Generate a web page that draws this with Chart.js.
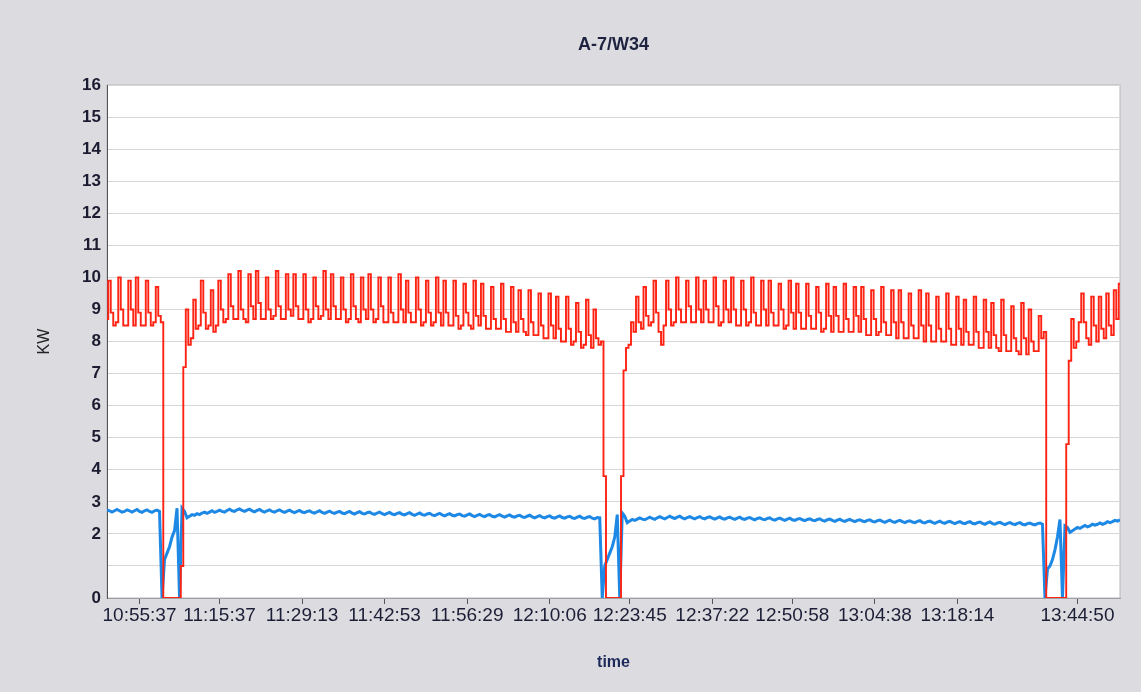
<!DOCTYPE html>
<html lang="en">
<head>
    <meta charset="UTF-8">
    <title>A-7/W34</title>
    <script src="https://cdn.jsdelivr.net/npm/chart.js@4.4.1/dist/chart.umd.min.js"></script>
    <style>
        body { margin: 0; background-color: #dcdbe0; }
        #chart-container { width: 1141px; height: 692px; }
    </style>
</head>
<body>
    <div id="chart-container">
        <canvas id="kwChart"></canvas>
    </div>

<script>
    // sample index (one point per reading) and the time labels printed under the axis
    const tickIndex  = [13, 45, 78, 111, 144, 177, 209, 242, 274, 307, 340, 388];
    const tickLabels = ['10:55:37', '11:15:37', '11:29:13', '11:42:53', '11:56:29', '12:10:06',
                        '12:23:45', '12:37:22', '12:50:58', '13:04:38', '13:18:14', '13:44:50'];

    // red series (KW)
    const redKW = [
        8.7, 9.9, 8.9, 8.5,  8.6, 10.0, 9.0, 8.5,  8.5, 9.9, 9.0, 8.5,  10.0, 8.9, 8.5,
        8.5, 9.9, 8.9, 8.5,  8.6, 9.7, 8.8, 8.6,
        0, 0, 0, 0, 0, 0, 0,
        1.0, 7.2,
        9.0, 7.9, 8.1, 9.3, 8.4, 8.5, 9.9, 8.9, 8.4, 8.5, 9.6, 8.3, 8.5, 9.9, 9.0, 8.6,
        8.7, 10.1, 9.1, 8.7,  8.7, 10.2, 9.0, 8.7,  8.6, 10.1, 9.1,
        8.7, 10.2, 9.2, 8.7,  8.7, 10.0, 9.0, 8.7,  8.8, 10.2, 9.1, 8.7,  8.7, 10.1, 9.0,
        8.8, 10.1, 9.1, 8.7,  8.7, 10.1, 9.0, 8.6,  8.7, 10.0, 9.1, 8.7,  8.8, 10.2, 9.0,
        8.7, 10.1, 9.1, 8.7,  8.7, 10.0, 9.0, 8.6,  8.7, 10.1, 9.1, 8.7,  8.6, 10.0, 9.0,
        8.7, 10.1, 9.0, 8.6,  8.7, 10.0, 9.1, 8.6,  8.6, 10.0, 8.9, 8.6,  8.6, 10.1, 9.0,
        8.6, 9.9, 8.9, 8.6,  8.6, 10.0, 9.0, 8.5,  8.6, 9.9, 8.9, 8.5,  8.6, 10.0, 8.9,
        8.5, 9.9, 8.9, 8.5,  8.5, 9.9, 8.8, 8.4,  8.5, 9.8, 8.9, 8.5,  8.4, 9.9, 8.8,
        8.5, 9.8, 8.8, 8.4,  8.4, 9.7, 8.7, 8.4,  8.4, 9.8, 8.7, 8.3,  8.3, 9.7, 8.6,
        8.3, 9.6, 8.7, 8.3,  8.2, 9.6, 8.6, 8.2,  8.2, 9.5, 8.5, 8.1,  8.1, 9.5, 8.5,
        8.1, 9.4, 8.4, 8.0,  8.0, 9.4, 8.4, 7.9,  8.0, 9.2, 8.3, 7.8,  7.9, 9.3, 8.2,
        7.8, 9.0, 8.1, 7.9,
        8.0,
        3.8, 0, 0, 0, 0, 0, 0,
        3.8, 7.1, 7.8,
        7.9, 8.6, 8.3, 9.4, 8.6, 8.4, 9.7, 8.8, 8.5, 8.6, 9.9, 8.9, 8.3, 7.9, 8.5, 9.9, 9.0, 8.5,
        8.6, 10.0, 9.0, 8.6,  8.6, 9.9, 9.1, 8.6,  8.6, 10.0, 9.0,
        8.6, 9.9, 9.0, 8.6,  8.6, 10.0, 9.1, 8.5,  8.6, 9.9, 9.0,
        8.6, 10.0, 9.0, 8.5,  8.5, 9.9, 9.0, 8.5,  8.6, 10.0, 8.9, 8.5,  8.5, 9.9, 9.0,
        8.5, 9.9, 8.9, 8.5,  8.5, 9.8, 9.0, 8.4,  8.5, 9.9, 8.9,
        8.4, 9.8, 8.9, 8.4,  8.4, 9.8, 8.8, 8.4,  8.4, 9.7, 8.9, 8.3,  8.4, 9.8, 8.8,
        8.3, 9.7, 8.8, 8.3,  8.3, 9.8, 8.7, 8.3,  8.3, 9.7, 8.8,
        8.3, 9.7, 8.7, 8.2,  8.2, 9.6, 8.7, 8.2,  8.3, 9.7, 8.6, 8.2,  8.2, 9.6, 8.6,
        8.1, 9.6, 8.6, 8.1,  8.1, 9.5, 8.5, 8.1,  8.1, 9.6, 8.5,
        8.0, 9.5, 8.5, 8.0,  8.0, 9.4, 8.4, 8.0,  8.0, 9.5, 8.4, 7.9,  7.9, 9.4, 8.4,
        7.9, 9.3, 8.3, 7.9,  7.9, 9.4, 8.3, 7.8,  7.8, 9.3, 8.3,
        7.8, 9.2, 8.2, 7.8,  7.7, 9.3, 8.2, 7.7,  7.7, 9.1, 8.1, 7.7,  7.6, 9.2, 8.1,
        7.6, 9.0, 8.0, 7.7,  7.7, 8.8, 8.1, 8.3,
        0, 0, 0, 0, 0, 0, 0, 0,
        4.8, 7.4, 8.7,
        7.8, 8.0, 8.6, 9.5, 8.6, 8.1, 7.9, 9.4, 8.5, 8.0, 9.4, 8.4, 8.1, 9.5, 8.5, 8.2, 9.6, 8.7, 9.8
    ];

    // blue series (KW)
    const blueKW = [
        2.75, 2.72, 2.68, 2.72, 2.76, 2.72, 2.68, 2.7, 2.75, 2.72,
        2.68, 2.72, 2.76, 2.7, 2.67, 2.72, 2.75, 2.7, 2.67, 2.72,
        2.74, 2.7, 0, 1.2, 1.4, 1.6, 1.9, 2.1, 2.8, 0,
        2.8, 2.7, 2.5, 2.55, 2.6, 2.58, 2.63, 2.6, 2.65, 2.68,
        2.64, 2.68, 2.72, 2.67, 2.7, 2.74, 2.7, 2.68, 2.73, 2.77,
        2.72, 2.7, 2.75, 2.78, 2.73, 2.7, 2.74, 2.77, 2.72, 2.69,
        2.73, 2.76, 2.71, 2.68, 2.72, 2.75, 2.7, 2.68, 2.72, 2.75,
        2.7, 2.67, 2.71, 2.74, 2.69, 2.66, 2.7, 2.73, 2.68, 2.66,
        2.7, 2.72, 2.67, 2.65, 2.69, 2.72, 2.67, 2.64, 2.68, 2.71,
        2.66, 2.64, 2.68, 2.7, 2.65, 2.63, 2.67, 2.7, 2.65, 2.62,
        2.66, 2.69, 2.64, 2.62, 2.66, 2.68, 2.63, 2.61, 2.65, 2.68,
        2.63, 2.6, 2.64, 2.67, 2.62, 2.6, 2.64, 2.66, 2.61, 2.59,
        2.63, 2.66, 2.61, 2.58, 2.62, 2.65, 2.6, 2.58, 2.62, 2.64,
        2.59, 2.57, 2.61, 2.64, 2.59, 2.56, 2.6, 2.63, 2.58, 2.56,
        2.6, 2.62, 2.57, 2.55, 2.59, 2.62, 2.57, 2.54, 2.58, 2.61,
        2.56, 2.54, 2.58, 2.6, 2.55, 2.53, 2.57, 2.6, 2.55, 2.52,
        2.56, 2.59, 2.54, 2.52, 2.56, 2.58, 2.53, 2.51, 2.55, 2.58,
        2.53, 2.5, 2.54, 2.57, 2.52, 2.5, 2.54, 2.56, 2.51, 2.49,
        2.53, 2.56, 2.51, 2.49, 2.53, 2.55, 2.5, 2.48, 2.52, 2.55,
        2.5, 2.48, 2.52, 2.54, 2.49, 2.47, 2.51, 2.5, 0, 1.0,
        1.2, 1.4, 1.6, 1.9, 2.6, 0, 2.65, 2.55, 2.35, 2.4,
        2.45, 2.42, 2.46, 2.5, 2.46, 2.44, 2.48, 2.52, 2.48, 2.45,
        2.5, 2.54, 2.5, 2.47, 2.51, 2.55, 2.51, 2.48, 2.52, 2.55,
        2.5, 2.47, 2.51, 2.54, 2.5, 2.47, 2.51, 2.54, 2.49, 2.47,
        2.51, 2.53, 2.49, 2.46, 2.5, 2.53, 2.48, 2.46, 2.5, 2.52,
        2.48, 2.45, 2.49, 2.52, 2.47, 2.45, 2.49, 2.51, 2.47, 2.44,
        2.48, 2.5, 2.46, 2.44, 2.48, 2.5, 2.45, 2.43, 2.47, 2.49,
        2.45, 2.42, 2.46, 2.49, 2.44, 2.42, 2.46, 2.48, 2.44, 2.41,
        2.45, 2.47, 2.43, 2.41, 2.45, 2.47, 2.42, 2.4, 2.44, 2.46,
        2.42, 2.39, 2.43, 2.46, 2.41, 2.39, 2.43, 2.45, 2.41, 2.38,
        2.42, 2.44, 2.4, 2.38, 2.42, 2.44, 2.39, 2.37, 2.41, 2.43,
        2.39, 2.36, 2.4, 2.43, 2.38, 2.36, 2.4, 2.42, 2.38, 2.35,
        2.39, 2.41, 2.37, 2.35, 2.39, 2.41, 2.36, 2.34, 2.38, 2.4,
        2.36, 2.33, 2.37, 2.4, 2.35, 2.33, 2.37, 2.39, 2.35, 2.32,
        2.36, 2.38, 2.34, 2.32, 2.36, 2.38, 2.33, 2.31, 2.35, 2.37,
        2.33, 2.3, 2.34, 2.37, 2.32, 2.3, 2.34, 2.36, 2.32, 2.29,
        2.33, 2.35, 2.31, 2.29, 2.33, 2.35, 2.3, 2.28, 2.32, 2.34,
        2.3, 2.28, 2.32, 2.34, 2.3, 0, 0.9, 1.0, 1.2, 1.5,
        1.9, 2.45, 0, 2.25, 2.2, 2.05, 2.1, 2.15, 2.2, 2.17,
        2.22, 2.26, 2.22, 2.25, 2.3, 2.27, 2.3, 2.34, 2.3, 2.33,
        2.38, 2.35, 2.38, 2.42, 2.4, 2.44
    ];

    const fontFamily = "'Liberation Sans', Arial, sans-serif";
    const lastIndex = Math.max(redKW.length, blueKW.length) - 1;

    // white plot area on the grey page
    const plotBackground = {
        id: 'plotBackground',
        beforeDraw(chart) {
            const { ctx, chartArea: a } = chart;
            ctx.save();
            ctx.fillStyle = '#ffffff';
            ctx.fillRect(a.left, a.top, a.width, a.height);
            ctx.strokeStyle = '#b8b8bc';
            ctx.lineWidth = 1;
            ctx.strokeRect(a.left, a.top, a.width, a.height);
            ctx.restore();
        }
    };

    new Chart(document.getElementById('kwChart'), {
        type: 'line',
        data: {
            datasets: [
                {
                    label: 'red', data: redKW.map((v, i) => ({ x: i, y: v })),
                    borderColor: '#ff2314', borderWidth: 1.9, pointRadius: 0, stepped: 'middle'
                },
                {
                    label: 'blue', data: blueKW.map((v, i) => ({ x: i, y: v })),
                    borderColor: '#1e88e5', borderWidth: 3, pointRadius: 0, tension: 0
                }
            ]
        },
        options: {
            responsive: true, maintainAspectRatio: false,
            animation: false,
            layout: { padding: { left: 0, right: 21, top: 0, bottom: 0 } },
            plugins: {
                legend: { display: false },
                tooltip: { enabled: false },
                title: {
                    display: true, text: 'A-7/W34', fullSize: false,
                    color: '#1d2340', font: { family: fontFamily, size: 18, weight: 'bold' },
                    padding: { top: 34, bottom: 29.4 }
                }
            },
            scales: {
                x: {
                    type: 'linear', min: 0, max: lastIndex,
                    afterBuildTicks: axis => { axis.ticks = tickIndex.map(v => ({ value: v })); },
                    afterFit: s => { s.height = 94; },
                    grid: { drawOnChartArea: false, color: '#555', tickLength: 6 },
                    border: { color: '#a0a0a4' },
                    ticks: {
                        autoSkip: false, maxRotation: 0, minRotation: 0, padding: 0,
                        color: '#1c1e36', font: { family: fontFamily, size: 19 },
                        callback: v => {
                            const k = tickIndex.indexOf(v);
                            return k >= 0 ? tickLabels[k] : '';
                        }
                    },
                    title: {
                        display: true, text: 'time', color: '#1d2a5a',
                        font: { family: fontFamily, size: 16, weight: 'bold' },
                        padding: { top: 0, bottom: 20 }
                    }
                },
                y: {
                    min: 0, max: 16,
                    afterFit: s => { s.width = 107; },
                    grid: { color: '#d6d6d6', drawTicks: false },
                    border: { color: '#555' },
                    ticks: {
                        stepSize: 1, padding: 6,
                        color: '#1c1c30', font: { family: fontFamily, size: 17, weight: 'bold' },
                        callback: v => v === 1 ? '' : v
                    },
                    title: {
                        display: true, text: 'KW', color: '#222',
                        font: { family: fontFamily, size: 16 },
                        padding: { top: 35, bottom: 0 }
                    }
                }
            }
        },
        plugins: [plotBackground]
    });
</script>
</body>
</html>
